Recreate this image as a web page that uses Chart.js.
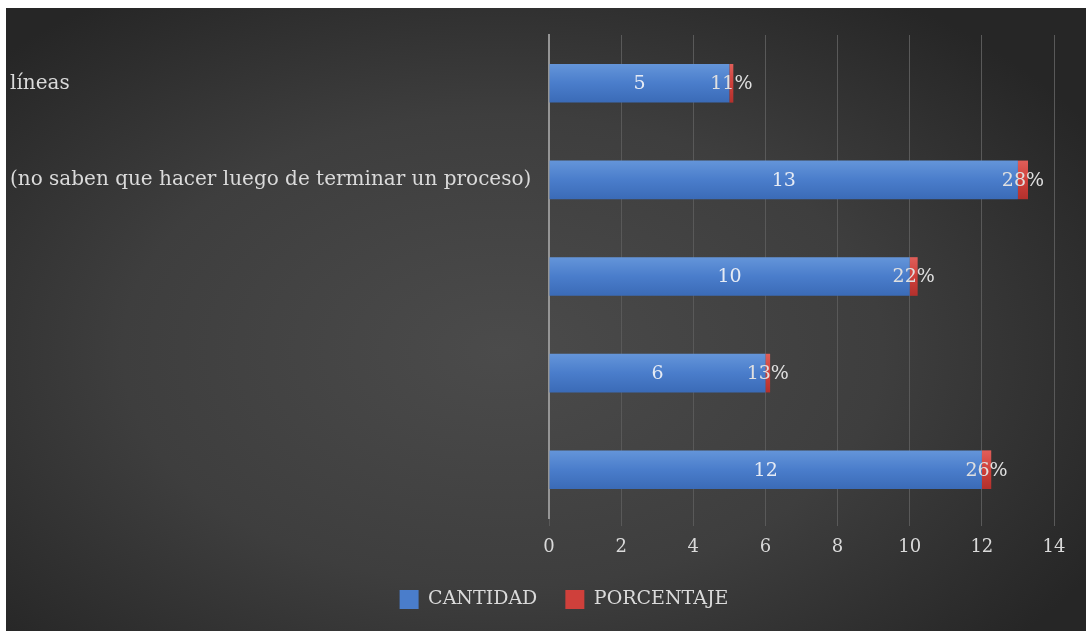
<!DOCTYPE html>
<html>
<head>
<meta charset="utf-8">
<script src="https://cdn.jsdelivr.net/npm/chart.js@4/dist/chart.umd.min.js"></script>
<style>
  html, body { margin: 0; padding: 0; background: #ffffff; }
  #wrap { position: absolute; left: 6px; top: 8px; width: 1080px; height: 623px; }
</style>
</head>
<body>
<div id="wrap"><canvas id="c" width="1080" height="623"></canvas></div>
<script>
// ---- data ----
const categories = [
  "líneas",
  "(no saben que hacer luego de terminar un proceso)",
  "",
  "",
  ""
];
const cantidad = [5, 13, 10, 6, 12];
const porcentaje = [0.11, 0.28, 0.22, 0.13, 0.26];
const seriesNames = ["CANTIDAD", "PORCENTAJE"];
const xTicks = [0, 2, 4, 6, 8, 10, 12, 14];

const FONT = "'DejaVu Serif', 'Liberation Serif', serif";
const TEXT = "#dadada";

function barGradient(ctx, light, mid, dark) {
  const chart = ctx.chart;
  const ys = chart.scales && chart.scales.y;
  if (!ys || ctx.dataIndex === undefined || !chart.chartArea) return mid;
  const cy = ys.getPixelForValue(ctx.dataIndex);
  const half = 20;
  const g = chart.ctx.createLinearGradient(0, cy - half, 0, cy + half);
  g.addColorStop(0, light);
  g.addColorStop(0.5, mid);
  g.addColorStop(1, dark);
  return g;
}

const bgPlugin = {
  id: 'bg',
  beforeDraw(chart) {
    const c = chart.ctx;
    const w = chart.width, h = chart.height;
    c.save();
    c.fillStyle = '#262626';
    c.fillRect(0, 0, w, h);
    c.translate(w * 0.46, h * 0.55);
    c.scale(1, 0.62);
    const g = c.createRadialGradient(0, 0, 0, 0, 0, w * 0.64);
    g.addColorStop(0, '#4b4b4b');
    g.addColorStop(0.55, '#3e3e3e');
    g.addColorStop(1, '#262626');
    c.fillStyle = g;
    c.fillRect(-w, -h * 2, w * 2, h * 4);
    c.restore();
  }
};

const legendShift = {
  id: 'legendShift',
  afterLayout(chart) {
    if (chart.legend) {
      chart.legend.left += 32;
      chart.legend.right += 32;
    }
  }
};

const labelPlugin = {
  id: 'barLabels',
  afterDatasetsDraw(chart) {
    const c = chart.ctx;
    c.save();
    c.font = "19px " + FONT;
    c.textAlign = 'center';
    c.textBaseline = 'middle';
    chart.data.datasets.forEach((ds, di) => {
      const meta = chart.getDatasetMeta(di);
      meta.data.forEach((el, i) => {
        const p = el.getCenterPoint();
        const v = ds.data[i];
        const txt = di === 0 ? String(v) : Math.round(v * 100) + '%';
        c.fillStyle = di === 0 ? '#e6ebf4' : '#e0e0e0';
        c.fillText(txt, p.x, p.y + 1);
      });
    });
    c.restore();
  }
};

new Chart(document.getElementById('c'), {
  type: 'bar',
  data: {
    labels: categories,
    datasets: [
      {
        label: seriesNames[0],
        data: cantidad,
        backgroundColor: (ctx) => barGradient(ctx, '#6596da', '#4a7dcb', '#3a6ab6'),
        borderWidth: 0,
        categoryPercentage: 0.4,
        barPercentage: 1
      },
      {
        label: seriesNames[1],
        data: porcentaje,
        backgroundColor: (ctx) => barGradient(ctx, '#e0605b', '#cf403b', '#b2302c'),
        borderWidth: 0,
        categoryPercentage: 0.4,
        barPercentage: 1
      }
    ]
  },
  options: {
    indexAxis: 'y',
    responsive: false,
    animation: false,
    layout: { padding: { left: 4, right: 32, top: 27, bottom: 12 } },
    scales: {
      x: {
        stacked: true,
        min: 0,
        max: 14,
        afterBuildTicks(scale) { scale.ticks = xTicks.map(v => ({ value: v })); },
        afterFit(scale) { scale.height = 44; },
        grid: { color: '#595959', lineWidth: 1, drawTicks: true, tickLength: 8, tickColor: '#595959' },
        border: { display: false },
        ticks: { color: TEXT, font: { family: FONT, size: 18 }, padding: 11 }
      },
      y: {
        stacked: true,
        afterFit(scale) { scale.width = 539; },
        grid: { display: false },
        border: { display: true, color: '#959595', width: 2 },
        ticks: { color: TEXT, font: { family: FONT, size: 20 }, crossAlign: 'far', padding: 14 }
      }
    },
    plugins: {
      legend: {
        position: 'bottom',
        labels: {
          color: TEXT,
          font: { family: FONT, size: 19 },
          boxWidth: 19,
          boxHeight: 19,
          padding: 28,
          generateLabels(chart) {
            const cols = ['#4a7dcb', '#cf403b'];
            return chart.data.datasets.map((ds, i) => ({
              text: ds.label,
              fillStyle: cols[i],
              strokeStyle: cols[i],
              lineWidth: 0,
              fontColor: TEXT,
              datasetIndex: i,
              hidden: false
            }));
          }
        }
      },
      tooltip: { enabled: false }
    }
  },
  plugins: [bgPlugin, legendShift, labelPlugin]
});
</script>
</body>
</html>
